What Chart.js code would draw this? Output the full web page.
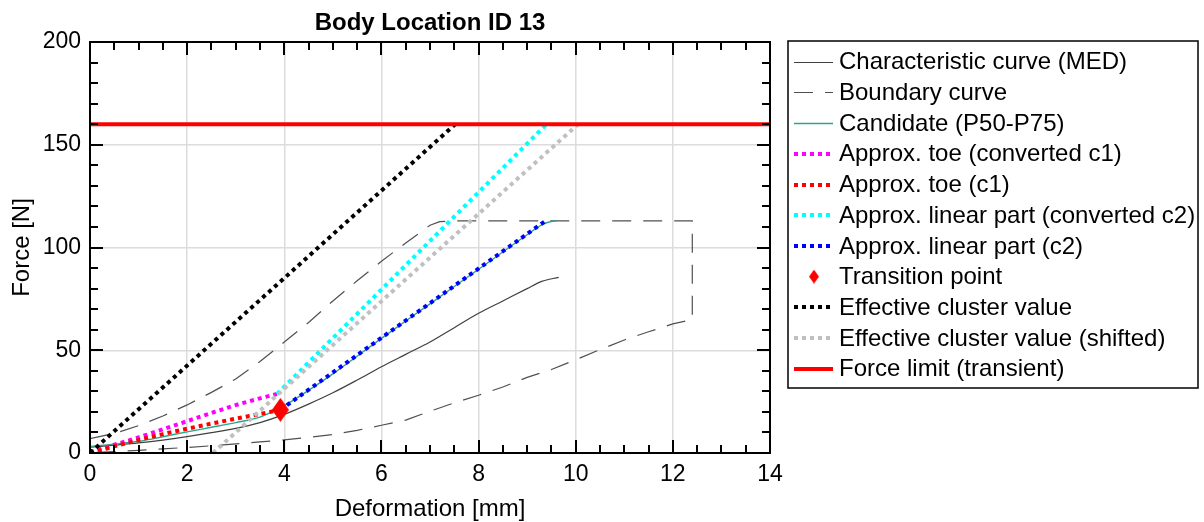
<!DOCTYPE html>
<html><head><meta charset="utf-8">
<script src="https://cdn.jsdelivr.net/npm/chart.js@4.4.1/dist/chart.umd.min.js"></script>
<style>html,body{margin:0;padding:0;background:#fff;}#wrap{width:1204px;height:522px;}</style>
</head><body><div id="wrap"><canvas id="c" width="1204" height="522"></canvas></div>
<script>
// ---------- data ----------
const xTickValues = [0, 2, 4, 6, 8, 10, 12, 14];
const yTickValues = [0, 50, 100, 150, 200];

const medX = [0, 0.5, 1, 1.5, 2, 2.5, 3, 3.5, 4, 4.5, 5, 5.5, 6, 6.5, 7, 7.5, 8, 8.5, 9, 9.3, 9.65];
const medY = [2.8, 3.8, 4.9, 6.3, 8, 9.9, 12, 14.8, 18.8, 23.8, 29.3, 35.5, 42, 48, 54, 61, 68, 74, 80, 83.5, 85.5];

const boundX = [0, 0.5, 1, 1.5, 2, 2.5, 3, 3.5, 4, 4.5, 5, 5.5, 6, 6.5, 7, 7.2, 7.5, 12.4, 12.4,
                12, 11.5, 11, 10.5, 10, 9.5, 9, 8.5, 8, 7.5, 7, 6.5, 6, 5.5, 5, 4.5, 4, 3.5, 3, 2.5, 2, 1.5, 1, 0.5, 0];
const boundY = [7, 9.5, 13.3, 18, 23.4, 29.5, 36, 44.5, 54, 63.5, 74, 83.8, 93.3, 102.2, 110.8, 112.6, 113, 113, 65,
                62.8, 59, 55, 50.3, 45.4, 40.6, 36.8, 32.1, 28.1, 24.4, 20.3, 16, 13.5, 11, 9, 7.6, 6.4, 5.4, 4.4, 3.5, 2.7, 2, 1.3, 0.7, 0.2];

const candX = [0, 0.5, 1, 1.5, 2, 2.5, 3, 3.5, 4, 4.5, 5, 6, 7, 8, 9, 9.3, 9.45, 9.6];
const candY = [3.2, 4.3, 5.7, 7.9, 10.3, 12.5, 14.8, 17.5, 23, 30.5, 38.5, 55.8, 72.6, 89.4, 106.2, 111, 112.4, 113];

const toeConvX = [0, 0.5, 1, 1.5, 2, 2.5, 3, 3.5, 3.85];
const toeConvY = [0.5, 4, 7.6, 11.5, 15.5, 19.5, 23.3, 26.6, 28.7];

const toeX = [0, 0.5, 1, 1.5, 2, 2.5, 3, 3.5, 3.92];
const toeY = [0, 3.2, 6.3, 9.2, 11.8, 14.3, 16.7, 19, 21];

const linConvX = [3.85, 9.4];
const linConvY = [28.7, 160];

const linX = [3.92, 9.38];
const linY = [21, 113];

const transX = [3.92];
const transY = [21];

const effX = [0, 7.52];
const effY = [0, 160];

const effShiftX = [2.53, 10.05];
const effShiftY = [0, 160];

const limitX = [0, 14];
const limitY = [160, 160];

const labels = [
  'Characteristic curve (MED)', 'Boundary curve', 'Candidate (P50-P75)',
  'Approx. toe (converted c1)', 'Approx. toe (c1)', 'Approx. linear part (converted c2)',
  'Approx. linear part (c2)', 'Transition point', 'Effective cluster value',
  'Effective cluster value (shifted)', 'Force limit (transient)'
];

// ---------- helpers ----------
const FONT = "'Liberation Sans', Arial, sans-serif";
function pts(xs, ys) { return xs.map((x, i) => ({ x: x, y: ys[i] })); }
function makeDiamond(w, h, color) {
  const c = document.createElement('canvas');
  c.width = w; c.height = h;
  const g = c.getContext('2d');
  g.fillStyle = color;
  g.beginPath();
  g.moveTo(w / 2, 0); g.lineTo(w, h / 2); g.lineTo(w / 2, h); g.lineTo(0, h / 2);
  g.closePath(); g.fill();
  return c;
}
const DOT = [4, 4];
const styles = [
  { color: '#404040', width: 1.2, dash: [], smooth: true },
  { color: '#505050', width: 1.2, dash: [19, 12] },
  { color: '#2ca58d', width: 1.4, dash: [], smooth: true },
  { color: '#ff00ff', width: 4, dash: DOT, smooth: true },
  { color: '#ff0000', width: 4, dash: DOT, smooth: true },
  { color: '#00ffff', width: 4, dash: DOT },
  { color: '#0000ff', width: 4, dash: DOT },
  { color: '#ff0000', width: 0, dash: [], marker: true },
  { color: '#000000', width: 4, dash: DOT },
  { color: '#c0c0c0', width: 4, dash: DOT },
  { color: '#ff0000', width: 4, dash: [] }
];
const series = [
  pts(medX, medY), pts(boundX, boundY), pts(candX, candY), pts(toeConvX, toeConvY),
  pts(toeX, toeY), pts(linConvX, linConvY), pts(linX, linY), pts(transX, transY),
  pts(effX, effY), pts(effShiftX, effShiftY), pts(limitX, limitY)
];
const N = series.length;
const datasets = series.map((d, i) => {
  const s = styles[i];
  if (s.marker) {
    return { label: labels[i], data: d, showLine: false, pointStyle: makeDiamond(17, 24, s.color),
      pointRadius: 10, order: N - i };
  }
  const ds = { label: labels[i], data: d, showLine: true, borderColor: s.color, borderWidth: s.width,
    borderDash: s.dash, pointRadius: 0, pointHoverRadius: 0, fill: false, tension: 0, order: N - i,
    borderCapStyle: 'butt', borderJoinStyle: 'round' };
  if (s.smooth) ds.cubicInterpolationMode = 'monotone';
  return ds;
});

// ---------- plugins ----------
const bgPlugin = {
  id: 'bg',
  beforeDraw(chart) {
    const g = chart.ctx; g.save(); g.fillStyle = '#fff'; g.fillRect(0, 0, chart.width, chart.height); g.restore();
  }
};
const framePlugin = {
  id: 'frame',
  afterDraw(chart) {
    const g = chart.ctx, a = chart.chartArea;
    const xs = chart.scales.x, ys = chart.scales.y;
    g.save();
    // ticks
    g.strokeStyle = '#000'; g.lineWidth = 2;
    g.beginPath();
    for (let v = 0; v <= 14 + 1e-9; v += 0.5) {
      const p = Math.round(xs.getPixelForValue(v));
      const major = Math.abs(v / 2 - Math.round(v / 2)) < 1e-6;
      const L = major ? 13 : 8;
      g.moveTo(p, a.bottom); g.lineTo(p, a.bottom - L);
      g.moveTo(p, a.top); g.lineTo(p, a.top + L);
    }
    for (let v = 0; v <= 200 + 1e-9; v += 10) {
      const p = Math.round(ys.getPixelForValue(v));
      const major = v % 50 === 0;
      const L = major ? 13 : 8;
      g.moveTo(a.left, p); g.lineTo(a.left + L, p);
      g.moveTo(a.right, p); g.lineTo(a.right - L, p);
    }
    g.stroke();
    // box
    g.lineWidth = 2;
    g.strokeRect(a.left, a.top, a.right - a.left, a.bottom - a.top);
    // title
    g.fillStyle = '#000';
    g.textAlign = 'center'; g.textBaseline = 'middle';
    g.font = 'bold 24px ' + FONT;
    g.fillText('Body Location ID 13', (a.left + a.right) / 2, 23);
    // axis titles
    g.font = '24px ' + FONT;
    g.fillText('Deformation [mm]', (a.left + a.right) / 2, 509);
    g.save();
    g.translate(22, (a.top + a.bottom) / 2);
    g.rotate(-Math.PI / 2);
    g.fillText('Force [N]', 0, 0);
    g.restore();
    // legend
    const L0 = 788, T0 = 41, R0 = 1198, B0 = 388;
    g.fillStyle = '#fff';
    g.fillRect(L0, T0, R0 - L0, B0 - T0);
    g.strokeStyle = '#000'; g.lineWidth = 1.5;
    g.strokeRect(L0, T0, R0 - L0, B0 - T0);
    g.font = '24px ' + FONT;
    g.textAlign = 'left'; g.textBaseline = 'middle';
    for (let i = 0; i < N; i++) {
      const y = 61.7 + i * 30.7;
      const s = styles[i];
      if (s.marker) {
        g.drawImage(makeDiamond(10, 14, s.color), 814 - 5, y - 7);
      } else {
        g.save();
        g.strokeStyle = s.color; g.lineWidth = s.width; g.setLineDash(s.dash); g.lineCap = 'butt';
        const yy = Math.round(y) + (s.width % 2 ? 0.5 : 0);
        g.beginPath(); g.moveTo(794, yy); g.lineTo(833, yy); g.stroke();
        g.restore();
      }
      g.fillStyle = '#000';
      g.fillText(labels[i], 839, y + 1);
    }
    g.restore();
  }
};

Chart.defaults.font.family = FONT;
new Chart(document.getElementById('c'), {
  type: 'scatter',
  data: { datasets: datasets },
  options: {
    responsive: false, animation: false, devicePixelRatio: 1,
    layout: { padding: { top: 42, right: 434, bottom: 0, left: 0 } },
    plugins: { legend: { display: false }, title: { display: false }, tooltip: { enabled: false } },
    scales: {
      x: {
        type: 'linear', min: 0, max: 14,
        afterBuildTicks: (s) => { s.ticks = xTickValues.map(v => ({ value: v })); },
        afterFit: (s) => { s.height = 69; },
        ticks: { color: '#000', font: { size: 23 }, padding: 8, maxRotation: 0 },
        grid: { color: '#dcdcdc', lineWidth: 1.5, drawTicks: false },
        border: { display: false }
      },
      y: {
        type: 'linear', min: 0, max: 200,
        afterBuildTicks: (s) => { s.ticks = yTickValues.map(v => ({ value: v })); },
        afterFit: (s) => { s.width = 90; },
        ticks: { color: '#000', font: { size: 23 }, padding: 9 },
        grid: { color: '#dcdcdc', lineWidth: 1.5, drawTicks: false },
        border: { display: false }
      }
    }
  },
  plugins: [bgPlugin, framePlugin]
});
</script></body></html>
